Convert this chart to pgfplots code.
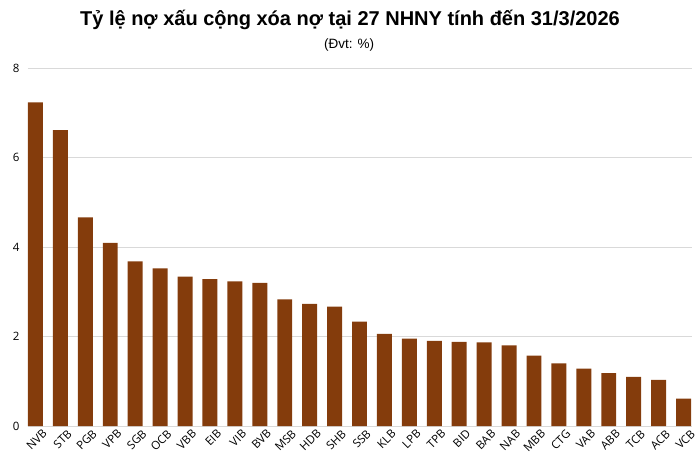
\documentclass[border=0pt]{standalone}
\usepackage{fontspec}
\setmainfont{Open Sans}
\newfontfamily\titlefont{Liberation Sans}
\usepackage{pgfplots}
\pgfplotsset{compat=1.18}
\definecolor{barbrown}{RGB}{132,60,12}
\definecolor{gridgray}{RGB}{217,217,217}
\begin{document}
\begin{tikzpicture}[x=1pt,y=1pt]
\path[use as bounding box] (0,0) rectangle (700,467);
\node[font=\titlefont\bfseries\fontsize{20}{23}\selectfont] at (350,447) {Tỷ lệ nợ xấu cộng xóa nợ tại 27 NHNY tính đến 31/3/2026};
\node[font=\titlefont\fontsize{13.5}{15}\selectfont] at (349,422) {(Đvt: \%)};
\begin{axis}[
  at={(28pt,41pt)}, anchor=south west,
  scale only axis,
  width=664pt, height=358pt,
  xmin=-0.3, xmax=26.34,
  ymin=0, ymax=8,
  ytick={0,2,4,6,8},
  xtick=data,
  xticklabels={NVB,STB,PGB,VPB,SGB,OCB,VBB,EIB,VIB,BVB,MSB,HDB,SHB,SSB,KLB,LPB,TPB,BID,BAB,NAB,MBB,CTG,VAB,ABB,TCB,ACB,VCB},
  axis line style={draw=none},
  major tick length=0pt,
  ymajorgrids,
  major grid style={gridgray, line width=0.8pt},
  /pgf/number format/assume math mode=true,
  tick label style={font=\fontsize{11.5}{13}\selectfont},
  yticklabel style={anchor=east, xshift=-5pt},
  xticklabel style={rotate=45, anchor=north east, xshift=6pt, yshift=-3pt},
  clip=false,
]
\addplot[ybar, bar width=0.6, fill=barbrown, draw=none] coordinates {
(0,7.23) (1,6.61) (2,4.66) (3,4.09) (4,3.68) (5,3.52) (6,3.34) (7,3.28) (8,3.23)
(9,3.20) (10,2.83) (11,2.73) (12,2.67) (13,2.33) (14,2.06) (15,1.95) (16,1.90)
(17,1.88) (18,1.87) (19,1.80) (20,1.57) (21,1.40) (22,1.28) (23,1.18) (24,1.10)
(25,1.03) (26,0.61)
};
\end{axis}
\end{tikzpicture}
\end{document}
